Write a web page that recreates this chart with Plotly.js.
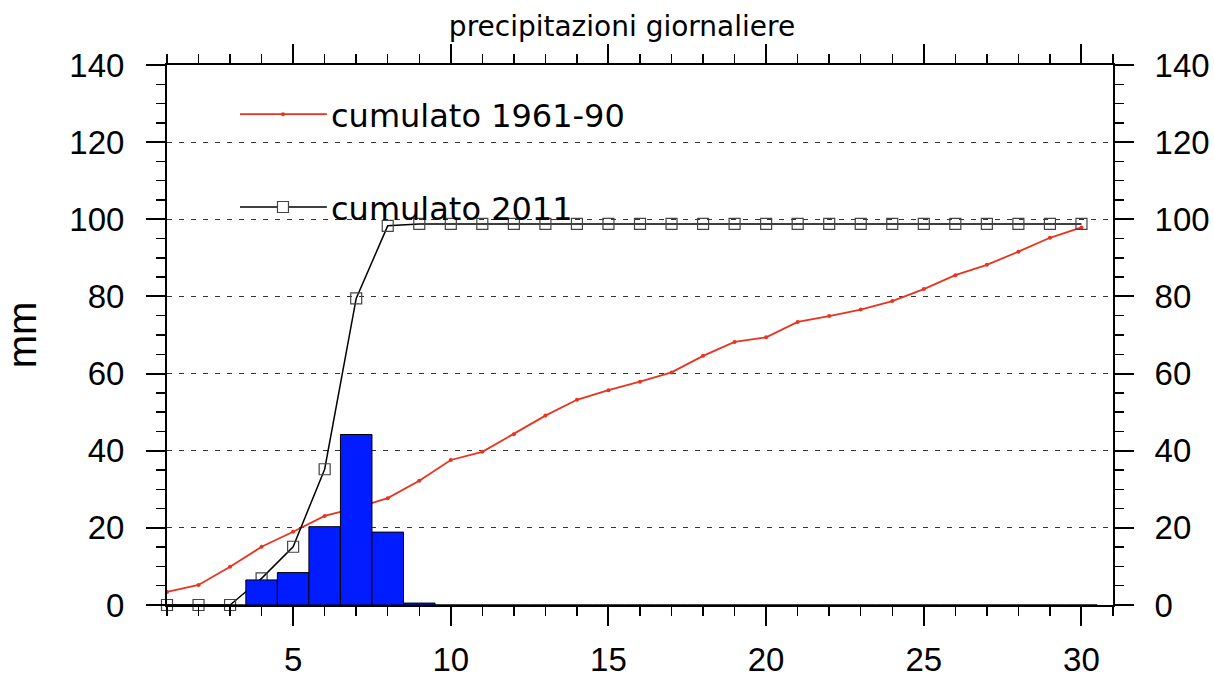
<!DOCTYPE html>
<html>
<head>
<meta charset="utf-8">
<script src="https://cdn.plot.ly/plotly-3.0.1.min.js"></script>
<style>
  html, body { margin: 0; padding: 0; background: #fff; }
  #chart { width: 1214px; height: 678px; }
</style>
</head>
<body>
<div id="chart"></div>
<script>
// ---- data ----
const days = [1,2,3,4,5,6,7,8,9,10,11,12,13,14,15,16,17,18,19,20,21,22,23,24,25,26,27,28,29,30];
const cumClimate = [3.4, 5.2, 9.9, 15.1, 19.0, 23.1, 25.2, 27.7, 32.2, 37.6,
                    39.7, 44.3, 49.1, 53.2, 55.7, 57.9, 60.3, 64.6, 68.2, 69.4,
                    73.4, 74.9, 76.6, 78.8, 81.9, 85.5, 88.2, 91.6, 95.2, 97.9];
const cum2011 = [0, 0, 0, 6.9, 15.1, 35.2, 79.5, 98.3, 98.8, 98.8,
                 98.8, 98.8, 98.8, 98.8, 98.8, 98.8, 98.8, 98.8, 98.8, 98.8,
                 98.8, 98.8, 98.8, 98.8, 98.8, 98.8, 98.8, 98.8, 98.8, 98.8];
const daily2011 = [0, 0, 0, 6.5, 8.4, 20.3, 44.2, 18.9, 0.5, 0,
                   0, 0, 0, 0, 0, 0, 0, 0, 0, 0,
                   0, 0, 0, 0, 0, 0, 0, 0, 0, 0];
const seriesNames = ['cumulato 1961-90', 'cumulato 2011'];
const titleText = 'precipitazioni giornaliere';
const yTitle = 'mm';
const xTickVals = [5, 10, 15, 20, 25, 30];
const yTickVals = [0, 20, 40, 60, 80, 100, 120, 140];

// ---- styles ----
const RED = 'rgb(232,52,30)';
const tickFont = {family: 'Liberation Sans, Arial, sans-serif', size: 33, color: '#000'};
const legFont = {family: 'DejaVu Sans, sans-serif', size: 32, color: '#000'};

const traces = [
  {
    x: days, y: cumClimate, type: 'scatter', mode: 'lines+markers',
    name: seriesNames[0], xaxis: 'x', yaxis: 'y',
    line: {color: RED, width: 1.8},
    marker: {color: RED, size: 4, symbol: 'circle'},
    showlegend: false, cliponaxis: false
  },
  {
    x: days, y: cum2011, type: 'scatter', mode: 'lines+markers',
    name: seriesNames[1], xaxis: 'x', yaxis: 'y',
    line: {color: '#000', width: 1.5},
    marker: {symbol: 'square-open', size: 11, color: '#444', line: {width: 1.2, color: '#444'}},
    showlegend: false, cliponaxis: false
  },
  {
    x: days, y: daily2011, type: 'bar', xaxis: 'x', yaxis: 'y2',
    width: 1,
    marker: {color: 'rgb(0,28,255)', line: {color: '#000', width: 1}},
    showlegend: false, name: 'giornaliero 2011'
  }
];

const axisCommon = {
  showline: true, linecolor: '#000', linewidth: 2,
  ticks: 'outside', tickcolor: '#000', tickwidth: 2,
  zeroline: false, tickfont: tickFont, fixedrange: true
};

const layout = {
  width: 1214, height: 678,
  margin: {l: 167, r: 101, t: 65, b: 73, pad: 0},
  paper_bgcolor: '#fff', plot_bgcolor: '#fff',
  showlegend: false,
  bargap: 0,
  title: {
    text: titleText,
    font: {family: 'DejaVu Sans, sans-serif', size: 28, color: '#000'},
    xref: 'paper', x: 0.481, xanchor: 'center',
    yref: 'container', y: 1 - 26/678, yanchor: 'middle'
  },
  xaxis: Object.assign({}, axisCommon, {
    range: [1, 31], tickmode: 'array', tickvals: xTickVals,
    ticktext: xTickVals.map(String),
    ticklen: 19, mirror: 'ticks', showgrid: false,
    ticklabelstandoff: 5,
    minor: {dtick: 1, tick0: 0, ticklen: 9, tickwidth: 1.5, tickcolor: '#000', ticks: 'outside', showgrid: false}
  }),
  yaxis: Object.assign({}, axisCommon, {
    range: [0, 140], tickmode: 'array', tickvals: yTickVals,
    ticktext: yTickVals.map(String),
    ticklen: 19, showgrid: true, gridcolor: '#333', gridwidth: 1,
    griddash: '5px,7px',
    ticklabelstandoff: 15,
    minor: {dtick: 5, tick0: 0, ticklen: 9, tickwidth: 1.5, tickcolor: '#000', ticks: 'outside', showgrid: false},
    title: {text: yTitle, font: {family: 'Liberation Sans, Arial, sans-serif', size: 40, color: '#000'}, standoff: 20}
  }),
  yaxis2: Object.assign({}, axisCommon, {
    overlaying: 'y', side: 'right',
    range: [0, 140], tickmode: 'array', tickvals: yTickVals,
    ticktext: yTickVals.map(String),
    ticklen: 19, showgrid: false,
    ticklabelstandoff: 14,
    minor: {dtick: 5, tick0: 0, ticklen: 9, tickwidth: 1.5, tickcolor: '#000', ticks: 'outside', showgrid: false}
  }),
  shapes: [
    // legend samples (decoration)
    {type: 'line', xref: 'paper', yref: 'paper', x0: 0.0772, x1: 0.169, y0: 0.909, y1: 0.909,
     line: {color: RED, width: 1.8}},
    {type: 'circle', xref: 'paper', yref: 'paper', xsizemode: 'pixel', ysizemode: 'pixel',
     xanchor: 0.1226, yanchor: 0.909, x0: -2, x1: 2, y0: -2, y1: 2,
     fillcolor: RED, line: {color: RED, width: 0}},
    {type: 'line', xref: 'paper', yref: 'paper', x0: 0.0772, x1: 0.169, y0: 0.737, y1: 0.737,
     line: {color: '#000', width: 1.5}},
    {type: 'rect', xref: 'paper', yref: 'paper', xsizemode: 'pixel', ysizemode: 'pixel',
     xanchor: 0.1226, yanchor: 0.737, x0: -5.5, x1: 5.5, y0: -5.5, y1: 5.5,
     fillcolor: '#fff', line: {color: '#444', width: 1.2}}
  ],
  annotations: [
    {text: seriesNames[0], xref: 'paper', yref: 'paper', x: 0.1715, y: 0.905,
     xanchor: 'left', yanchor: 'middle', showarrow: false, font: legFont},
    {text: seriesNames[1], xref: 'paper', yref: 'paper', x: 0.1715, y: 0.733,
     xanchor: 'left', yanchor: 'middle', showarrow: false, font: legFont}
  ]
};

Plotly.newPlot('chart', traces, layout, {displayModeBar: false, staticPlot: true});
</script>
</body>
</html>
